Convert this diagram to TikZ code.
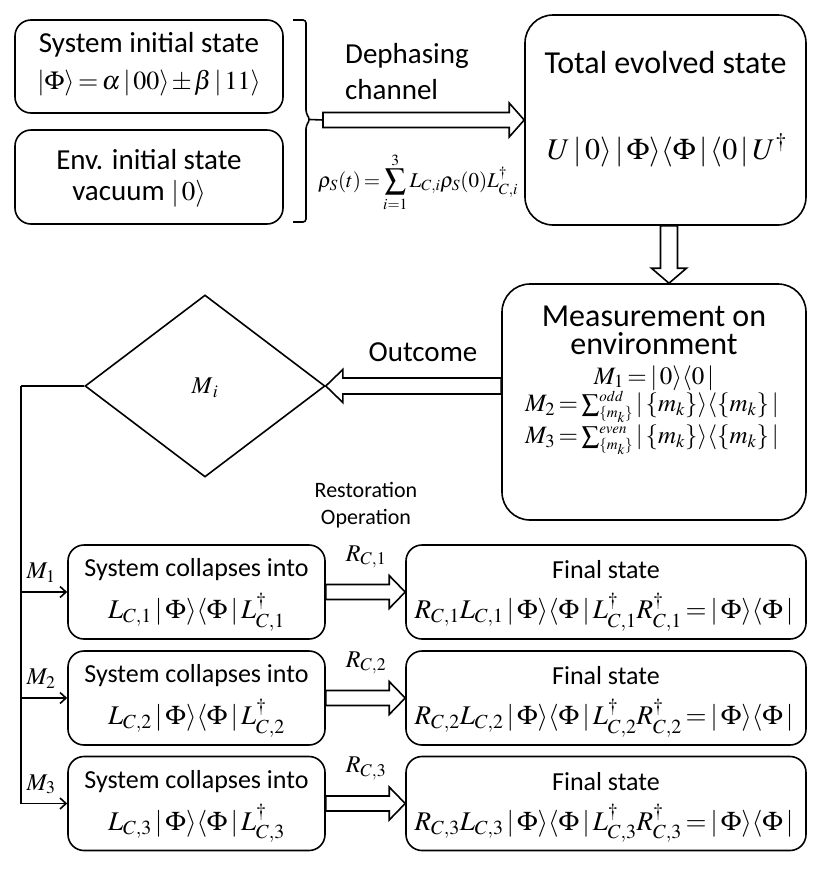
\documentclass[tikz,border=0pt]{standalone}
\usepackage{mathptmx}
\usepackage[no-math]{fontspec}
\setmainfont{Carlito}
\usetikzlibrary{calc,shapes.geometric,arrows.meta}
\newcommand\fsz[1]{\fontsize{#1}{#1}\selectfont}
\newcommand\sss{\scriptscriptstyle}
\newcommand\blk[5]{%
  \coordinate (bkA) at (#1);
  \coordinate (bkB) at (#2);
  \coordinate (bkH) at ($(bkB)!#5!(bkA)$);
  \draw[blkarrow] ($(bkA)!#3!90:(bkB)$) -- ($(bkH)!#3!90:(bkB)$) -- ($(bkH)!#4!90:(bkB)$) -- (bkB)
     -- ($(bkH)!#4!-90:(bkB)$) -- ($(bkH)!#3!-90:(bkB)$) -- ($(bkA)!#3!-90:(bkB)$) -- cycle;}
\thickmuskip=2.5mu plus 1mu
\medmuskip=1.5mu plus 1mu
\begin{document}
\begin{tikzpicture}[x=1pt,y=-1pt,
  box/.style={draw,line width=1.6pt,rounded corners=16pt,inner sep=0pt},
  bigbox/.style={box,rounded corners=28pt},
  blkarrow/.style={draw,line width=1.6pt,fill=white,line join=miter},
  lbl/.style={inner sep=0pt,align=center},
  thinarr/.style={line width=1.6pt,-{Straight Barb[length=6pt,width=11pt,line width=1.6pt]}}]
\useasboundingbox (0,0) rectangle (822,892);
% top-left boxes
\node[box,minimum width=268pt,minimum height=93pt] (sys) at (149,66.5) {};
\node[lbl] (systx) at (149,45) {\fsz{29}System initial state};
\node[lbl] (sysf) at (149,83) {\fsz{26}$|\Phi\rangle=\alpha\,|\,00\rangle\pm\beta\,|\,11\rangle$};
\node[box,minimum width=268pt,minimum height=94pt] (env) at (149,177) {};
\node[lbl] (envtx) at (149,160) {\fsz{29}Env. initial state};
\node[lbl] (envf) at (139,194) {\fsz{29}vacuum \fsz{27}$|\,0\rangle$};
% brace
\draw[line width=1.6pt,rounded corners=3pt] (293,20) -- (306,20) -- (306,113) -- (310,119.5) -- (306,126) -- (306,222) -- (293,222);
\coordinate (brS) at (323,120);
\draw[line width=1.6pt] (310,119.5) -- (brS);
% total evolved state
\node[bigbox,minimum width=281pt,minimum height=210pt] (total) at (665.5,120) {};
\node[lbl] (tottx) at (665.5,63) {\fsz{32}Total evolved state};
\node[lbl] (totf) at (667,150) {\fsz{30}$U\,|\,0\rangle\,|\,\Phi\rangle\langle\Phi\,|\,\langle 0\,|\,U^{\dagger}$};
\blk{brS}{total.west}{7.5pt}{17pt}{15pt}
\node[lbl,anchor=west] (deph) at (345,76) {\fsz{29}\begin{tabular}{@{}l@{}}Dephasing\\[7pt]channel\end{tabular}};
\node[lbl] (sumf) at (418,182) {\fsz{21}$\displaystyle\rho_S(t)=\sum_{i=1}^{3}L_{C,i}\rho_S(0)L_{C,i}^{\dagger}$};
% measurement
\node[bigbox,minimum width=304pt,minimum height=236pt] (meas) at (654,402) {};
\node[lbl] (meas1) at (654,316) {\fsz{32}Measurement on};
\node[lbl] (meas2) at (654,344) {\fsz{32}environment};
\node[lbl] (m1f) at (654,378) {\fsz{25}$M_1=|\,0\rangle\langle 0\,|$};
\node[lbl] (m2f) at (652,407) {\fsz{25}$M_2=\sum\nolimits^{\sss odd}_{\sss\{m_k\}}|\,\{m_k\}\rangle\langle\{m_k\}\,|$};
\node[lbl] (m3f) at (652,440) {\fsz{25}$M_3=\sum\nolimits^{\sss even}_{\sss\{m_k\}}|\,\{m_k\}\rangle\langle\{m_k\}\,|$};
\coordinate (dA) at ($(total.south)+(3.5,0)$);
\coordinate (dB) at (dA |- meas.north);
\blk{dA}{dB}{8.5pt}{17.5pt}{15pt}
% diamond
\node[draw,line width=1.6pt,shape=diamond,aspect=1.32,minimum width=240pt,minimum height=182pt,inner sep=0pt] (dia) at (205,386) {};
\node[lbl] (mi) at (205,388) {\fsz{24}$M_{\,i}$};
\coordinate (oS) at (dia.east -| meas.west);
\blk{oS}{dia.east}{8pt}{16.5pt}{17pt}
\node[lbl] (outc) at (423,352) {\fsz{29}Outcome};
\node[lbl] (rest) at (366,507) {\fsz{22}\begin{tabular}{@{}c@{}}Restoration\\[5pt]Operation\end{tabular}};
% lower boxes
\foreach \k/\y in {1/592,2/698,3/803.5}{
  \node[box,minimum width=257pt,minimum height=94pt] (L\k) at (196.5,\y) {};
  \node[box,minimum width=400pt,minimum height=94pt] (R\k) at (606,\y) {};
  \node[lbl] (Lt\k) at (196.5,\y-22) {\fsz{26}System collapses into};
  \node[lbl] (Rt\k) at (606,\y-22) {\fsz{26}Final state};
  \node[lbl] (Lf\k) at (196.5,\y+20) {\fsz{27}$L_{C,\k}\,|\,\Phi\rangle\langle\Phi\,|\,L_{C,\k}^{\dagger}$};
  \node[lbl] (Rf\k) at (604,\y+20) {\fsz{27}$R_{C,\k}L_{C,\k}\,|\,\Phi\rangle\langle\Phi\,|\,L_{C,\k}^{\dagger}R_{C,\k}^{\dagger}=|\,\Phi\rangle\langle\Phi\,|$};
  \blk{L\k.east}{R\k.west}{7.5pt}{16.5pt}{16pt}
  \node[lbl] (Rl\k) at (366,\y-35) {\fsz{24}$R_{C,\k}$};
  \node[lbl] (Ml\k) at (41,\y-19) {\fsz{24}$M_{\k}$};
}
\coordinate (trunk) at (21,386);
\draw[line width=1.6pt] (dia.west) -- (trunk);
\draw[thinarr] (trunk) |- (L3.west);
\draw[thinarr] (trunk |- L1.west) -- (L1.west);
\draw[thinarr] (trunk |- L2.west) -- (L2.west);
\end{tikzpicture}
\end{document}
